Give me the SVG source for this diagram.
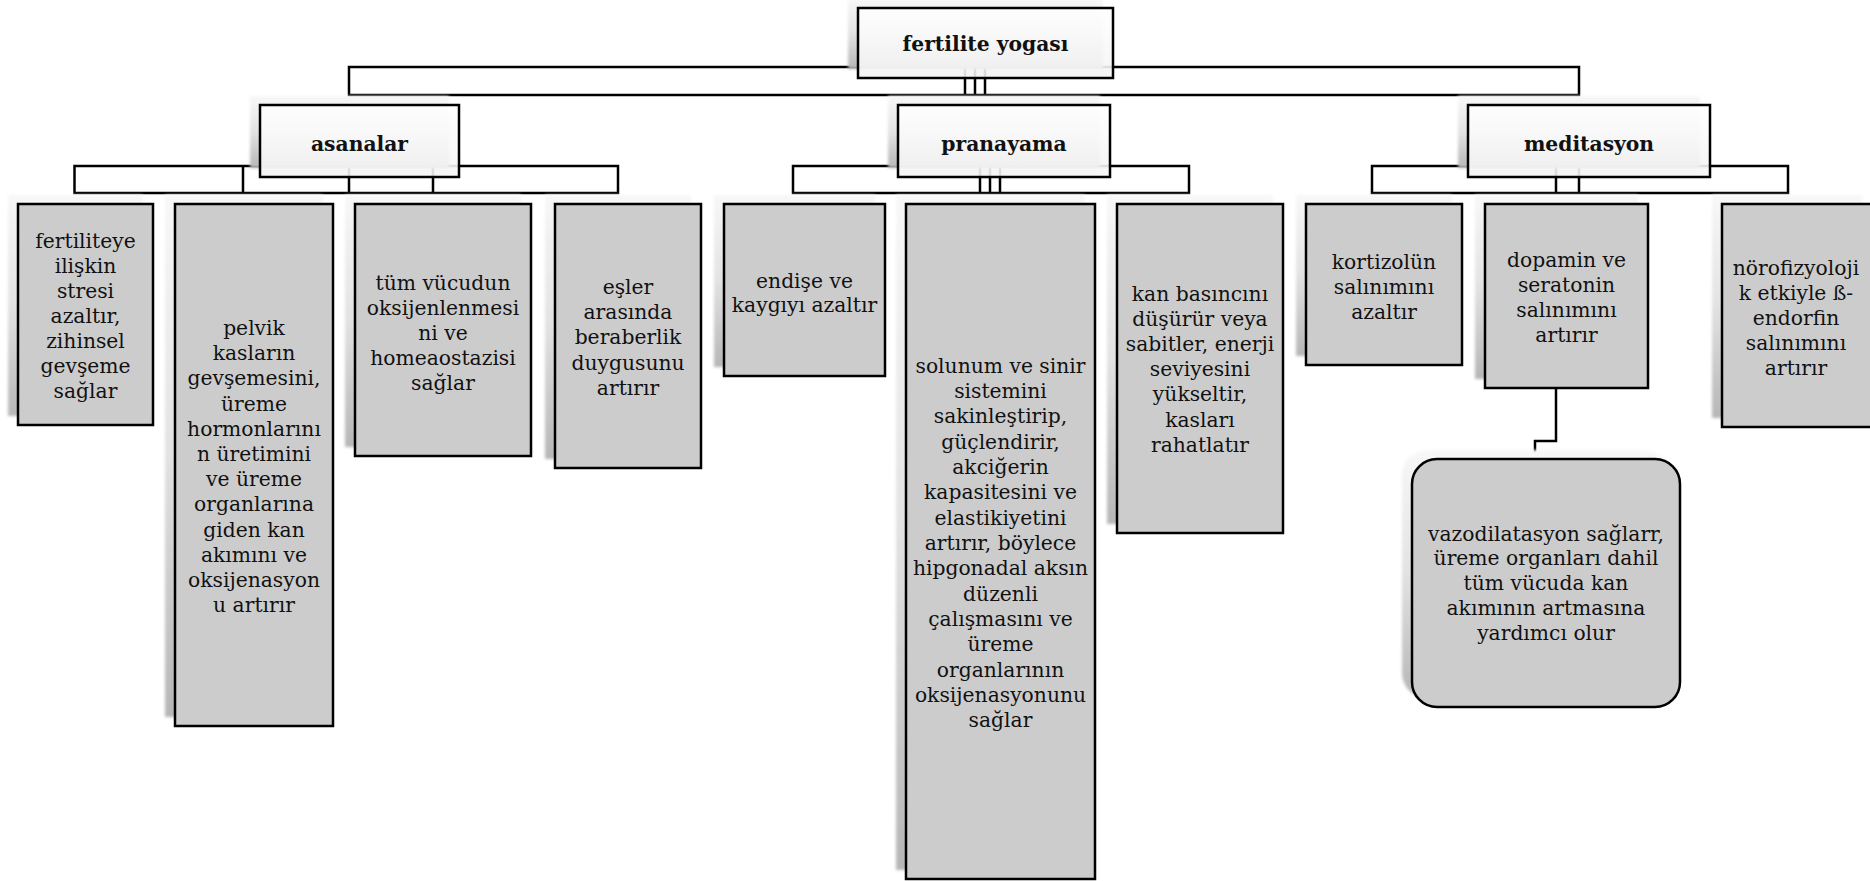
<svg xmlns="http://www.w3.org/2000/svg" width="1870" height="881" viewBox="0 0 1870 881">
<defs>
<linearGradient id="shg" x1="0" y1="0" x2="0" y2="1">
<stop offset="0" stop-color="#f8f8f8"/>
<stop offset="0.5" stop-color="#e2e2e2"/>
<stop offset="1" stop-color="#b6b6b6"/>
</linearGradient>
<linearGradient id="hdg" x1="0" y1="0" x2="0" y2="1">
<stop offset="0" stop-color="#ffffff"/>
<stop offset="1" stop-color="#f4f4f4"/>
</linearGradient>
<filter id="blur" x="-10%" y="-10%" width="120%" height="120%">
<feGaussianBlur stdDeviation="1.8"/>
</filter>
<style>
.sh{fill:url(#shg);filter:url(#blur);}
.hd{fill:url(#hdg);fill-opacity:0.9;stroke:#000;stroke-width:2.5;}
.lf{fill:#cccccc;stroke:#000;stroke-width:2.5;}
.ht{font-family:"DejaVu Serif",serif;font-weight:bold;font-size:20.3px;fill:#111;text-anchor:middle;}
.lt{font-family:"DejaVu Serif",serif;font-size:20.3px;fill:#111;text-anchor:middle;}
.cn{fill:none;stroke:#000;stroke-width:2.5;}
</style>
</defs>
<rect width="1870" height="881" fill="#ffffff"/>

<g id="connectors">
<rect class="cn" x="349" y="67" width="1230" height="28"/>
<path class="cn" d="M965,67V95M975,67V95M985,67V95"/>
<rect class="cn" x="74.5" y="166" width="543.5" height="27"/>
<path class="cn" d="M243,166V193M349,166V193M433,166V193"/>
<rect class="cn" x="793" y="166" width="396" height="27"/>
<path class="cn" d="M980,166V193M990,166V193M1000,166V193"/>
<rect class="cn" x="1372" y="166" width="416" height="27"/>
<path class="cn" d="M1556,166V193M1579,166V193"/>
<path class="cn" d="M1556,378V441H1535V459"/>
</g>

<g id="root">
<rect class="sh" x="848" y="-1" width="255" height="70"/>
<rect class="hd" x="858" y="8" width="255" height="70"/>
<text class="ht" x="985.5" y="51">fertilite yogası</text>
</g>

<g id="asanalar">
<rect class="sh" x="250" y="96" width="199" height="72"/>
<rect class="hd" x="260" y="105" width="199" height="72"/>
<text class="ht" x="359.5" y="150.5">asanalar</text>
</g>

<g id="pranayama">
<rect class="sh" x="888" y="96" width="212" height="72"/>
<rect class="hd" x="898" y="105" width="212" height="72"/>
<text class="ht" x="1004" y="150.5">pranayama</text>
</g>

<g id="meditasyon">
<rect class="sh" x="1458" y="96" width="242" height="72"/>
<rect class="hd" x="1468" y="105" width="242" height="72"/>
<text class="ht" x="1589" y="150.5">meditasyon</text>
</g>

<g id="a1">
<rect class="sh" x="8" y="195" width="135" height="221"/>
<rect class="lf" x="18" y="204" width="135" height="221"/>
<text class="lt" x="85.5" y="247.5"><tspan x="85.5">fertiliteye</tspan><tspan x="85.5" dy="25.1">ilişkin</tspan><tspan x="85.5" dy="25.1">stresi</tspan><tspan x="85.5" dy="25.1">azaltır,</tspan><tspan x="85.5" dy="25.1">zihinsel</tspan><tspan x="85.5" dy="25.1">gevşeme</tspan><tspan x="85.5" dy="25.1">sağlar</tspan></text>
</g>

<g id="a2">
<rect class="sh" x="165" y="195" width="158" height="522"/>
<rect class="lf" x="175" y="204" width="158" height="522"/>
<text class="lt" x="254" y="335"><tspan x="254">pelvik</tspan><tspan x="254" dy="25.2">kasların</tspan><tspan x="254" dy="25.2">gevşemesini,</tspan><tspan x="254" dy="25.2">üreme</tspan><tspan x="254" dy="25.2">hormonlarını</tspan><tspan x="254" dy="25.2">n üretimini</tspan><tspan x="254" dy="25.2">ve üreme</tspan><tspan x="254" dy="25.2">organlarına</tspan><tspan x="254" dy="25.2">giden kan</tspan><tspan x="254" dy="25.2">akımını ve</tspan><tspan x="254" dy="25.2">oksijenasyon</tspan><tspan x="254" dy="25.2">u artırır</tspan></text>
</g>

<g id="a3">
<rect class="sh" x="345" y="195" width="176" height="252"/>
<rect class="lf" x="355" y="204" width="176" height="252"/>
<text class="lt" x="443" y="289.5"><tspan x="443">tüm vücudun</tspan><tspan x="443" dy="25.2">oksijenlenmesi</tspan><tspan x="443" dy="25.2">ni ve</tspan><tspan x="443" dy="25.2">homeaostazisi</tspan><tspan x="443" dy="25.2">sağlar</tspan></text>
</g>

<g id="a4">
<rect class="sh" x="545" y="195" width="146" height="264"/>
<rect class="lf" x="555" y="204" width="146" height="264"/>
<text class="lt" x="628" y="293.5"><tspan x="628">eşler</tspan><tspan x="628" dy="25.4">arasında</tspan><tspan x="628" dy="25.4">beraberlik</tspan><tspan x="628" dy="25.4">duygusunu</tspan><tspan x="628" dy="25.4">artırır</tspan></text>
</g>

<g id="p1">
<rect class="sh" x="714" y="195" width="161" height="172"/>
<rect class="lf" x="724" y="204" width="161" height="172"/>
<text class="lt" x="804.5" y="287.5"><tspan x="804.5">endişe ve</tspan><tspan x="804.5" dy="24">kaygıyı azaltır</tspan></text>
</g>

<g id="p2">
<rect class="sh" x="896" y="195" width="189" height="675"/>
<rect class="lf" x="906" y="204" width="189" height="675"/>
<text class="lt" x="1000.5" y="372.5"><tspan x="1000.5">solunum ve sinir</tspan><tspan x="1000.5" dy="25.35">sistemini</tspan><tspan x="1000.5" dy="25.35">sakinleştirip,</tspan><tspan x="1000.5" dy="25.35">güçlendirir,</tspan><tspan x="1000.5" dy="25.35">akciğerin</tspan><tspan x="1000.5" dy="25.35">kapasitesini ve</tspan><tspan x="1000.5" dy="25.35">elastikiyetini</tspan><tspan x="1000.5" dy="25.35">artırır, böylece</tspan><tspan x="1000.5" dy="25.35">hipgonadal aksın</tspan><tspan x="1000.5" dy="25.35">düzenli</tspan><tspan x="1000.5" dy="25.35">çalışmasını ve</tspan><tspan x="1000.5" dy="25.35">üreme</tspan><tspan x="1000.5" dy="25.35">organlarının</tspan><tspan x="1000.5" dy="25.35">oksijenasyonunu</tspan><tspan x="1000.5" dy="25.35">sağlar</tspan></text>
</g>

<g id="p3">
<rect class="sh" x="1107" y="195" width="166" height="329"/>
<rect class="lf" x="1117" y="204" width="166" height="329"/>
<text class="lt" x="1200" y="300.5"><tspan x="1200">kan basıncını</tspan><tspan x="1200" dy="25.2">düşürür veya</tspan><tspan x="1200" dy="25.2">sabitler, enerji</tspan><tspan x="1200" dy="25.2">seviyesini</tspan><tspan x="1200" dy="25.2">yükseltir,</tspan><tspan x="1200" dy="25.2">kasları</tspan><tspan x="1200" dy="25.2">rahatlatır</tspan></text>
</g>

<g id="m1">
<rect class="sh" x="1296" y="195" width="156" height="161"/>
<rect class="lf" x="1306" y="204" width="156" height="161"/>
<text class="lt" x="1384" y="269"><tspan x="1384">kortizolün</tspan><tspan x="1384" dy="24.8">salınımını</tspan><tspan x="1384" dy="24.8">azaltır</tspan></text>
</g>

<g id="m2">
<rect class="sh" x="1475" y="195" width="163" height="184"/>
<rect class="lf" x="1485" y="204" width="163" height="184"/>
<text class="lt" x="1566.5" y="266.5"><tspan x="1566.5">dopamin ve</tspan><tspan x="1566.5" dy="25">seratonin</tspan><tspan x="1566.5" dy="25">salınımını</tspan><tspan x="1566.5" dy="25">artırır</tspan></text>
</g>

<g id="m3">
<rect class="sh" x="1712" y="195" width="150" height="223"/>
<rect class="lf" x="1722" y="204" width="152" height="223"/>
<text class="lt" x="1796" y="274.5"><tspan x="1796">nörofizyoloji</tspan><tspan x="1796" dy="25.1">k etkiyle ß-</tspan><tspan x="1796" dy="25.1">endorfin</tspan><tspan x="1796" dy="25.1">salınımını</tspan><tspan x="1796" dy="25.1">artırır</tspan></text>
</g>

<g id="m2a">
<rect class="sh" x="1402" y="450" width="268" height="248" rx="25" ry="25"/>
<rect class="lf" x="1412" y="459" width="268" height="248" rx="25" ry="25"/>
<text class="lt" x="1546" y="540.5"><tspan x="1546">vazodilatasyon sağlarr,</tspan><tspan x="1546" dy="24.8">üreme organları dahil</tspan><tspan x="1546" dy="24.8">tüm vücuda kan</tspan><tspan x="1546" dy="24.8">akımının artmasına</tspan><tspan x="1546" dy="24.8">yardımcı olur</tspan></text>
</g>
</svg>
